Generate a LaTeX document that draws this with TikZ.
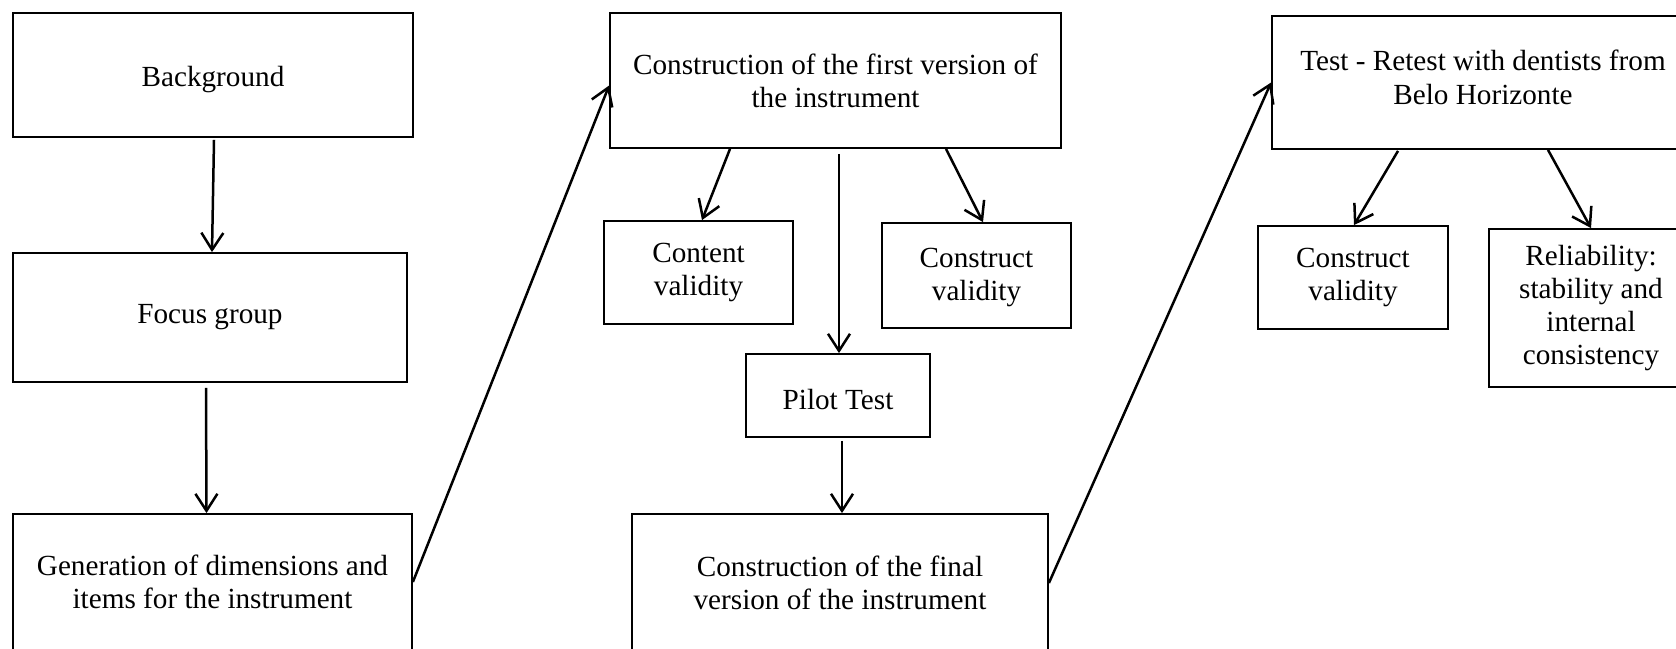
\documentclass[tikz,border=0pt]{standalone}
\usepackage{fontspec}
\setmainfont{Liberation Serif}
\usetikzlibrary{arrows.meta,calc}
\tikzset{
  steptext/.style={inner sep=0pt, align=center,
    font=\fontsize{14.6pt}{16.4pt}\selectfont},
  stepbox/.style={steptext, draw, line width=0.9pt},
  flow/.style={line width=1.25pt, -{Straight Barb[length=8.5pt,width=11pt]}},
}
\begin{document}
\begin{tikzpicture}[x=0.5pt,y=-0.5pt]
\useasboundingbox (0,0) rectangle (1676,648);
\clip (0,0) rectangle (1676,648);

% first column: preparation
\node[stepbox, minimum width=200pt, minimum height=62pt] (bg) at (213,75) {};
\node[steptext] (bg-t) at ($(bg.center)+(0,4.5)$) {Background};
\node[stepbox, minimum width=197pt, minimum height=64.5pt] (fg) at (210,317.5) {Focus group};
\node[stepbox, minimum width=199.5pt, minimum height=68pt] (gen) at (212.5,582)
  {Generation of dimensions and\\items for the instrument};

% second column: construction
\node[stepbox, minimum width=225.5pt, minimum height=67.5pt] (cf) at (835.5,80.5)
  {Construction of the first version of\\the instrument};
\node[stepbox, minimum width=94.5pt, minimum height=51.5pt] (cv) at (698.5,272.5)
  {Content\\validity};
\node[stepbox, minimum width=94.5pt, minimum height=52.5pt] (ctv) at (976.5,275.5) {};
\node[steptext] (ctv-t) at ($(ctv.center)+(0,2)$) {Construct\\validity};
\node[stepbox, minimum width=92pt, minimum height=41.5pt] (pilot) at (838,395.5) {};
\node[steptext] (pilot-t) at ($(pilot.center)+(0,4)$) {Pilot Test};
\node[stepbox, minimum width=208pt, minimum height=69pt] (fin) at (840,583)
  {Construction of the final\\version of the instrument};

% third column: test - retest
\node[stepbox, minimum width=211pt, minimum height=66.5pt] (tr) at (1483,82.5) {};
\node[steptext, font=\fontsize{14.6pt}{17pt}\selectfont] (tr-t) at ($(tr.center)+(0,-5)$)
  {Test - Retest with dentists from\\Belo Horizonte};
\node[stepbox, minimum width=95pt, minimum height=51.5pt] (cr) at (1353,277.5)
  {Construct\\validity};
\node[stepbox, minimum width=102pt, minimum height=79pt] (rel) at (1591,308)
  {Reliability:\\stability and\\internal\\consistency};

% connectors
\draw[flow] ($(bg.south)+(1,2)$) -- ($(fg.north)+(2,0)$);
\draw[flow] ($(fg.south)+(-4,5)$) -- ($(gen.north)+(-6,0)$);
\draw[flow] (gen.east) -- ($(cf.west)+(0,5)$);
\draw[flow] ($(cf.south)+(-105.5,0)$) -- ($(cv.north)+(3.5,0)$);
\draw[flow] ($(cf.south)+(3.5,5)$) -- ($(pilot.north)+(1,0)$);
\draw[flow] ($(cf.south)+(110.5,0)$) -- ($(ctv.north)+(6.5,0)$);
\draw[flow] ($(pilot.south)+(4,3)$) -- ($(fin.north)+(2,0)$);
\draw[flow] (fin.east) -- (tr.west);
\draw[flow] ($(tr.south)+(-85,1)$) -- ($(cr.north)+(1,0)$);
\draw[flow] ($(tr.south)+(65,0)$) -- (rel.north);
\end{tikzpicture}
\end{document}
